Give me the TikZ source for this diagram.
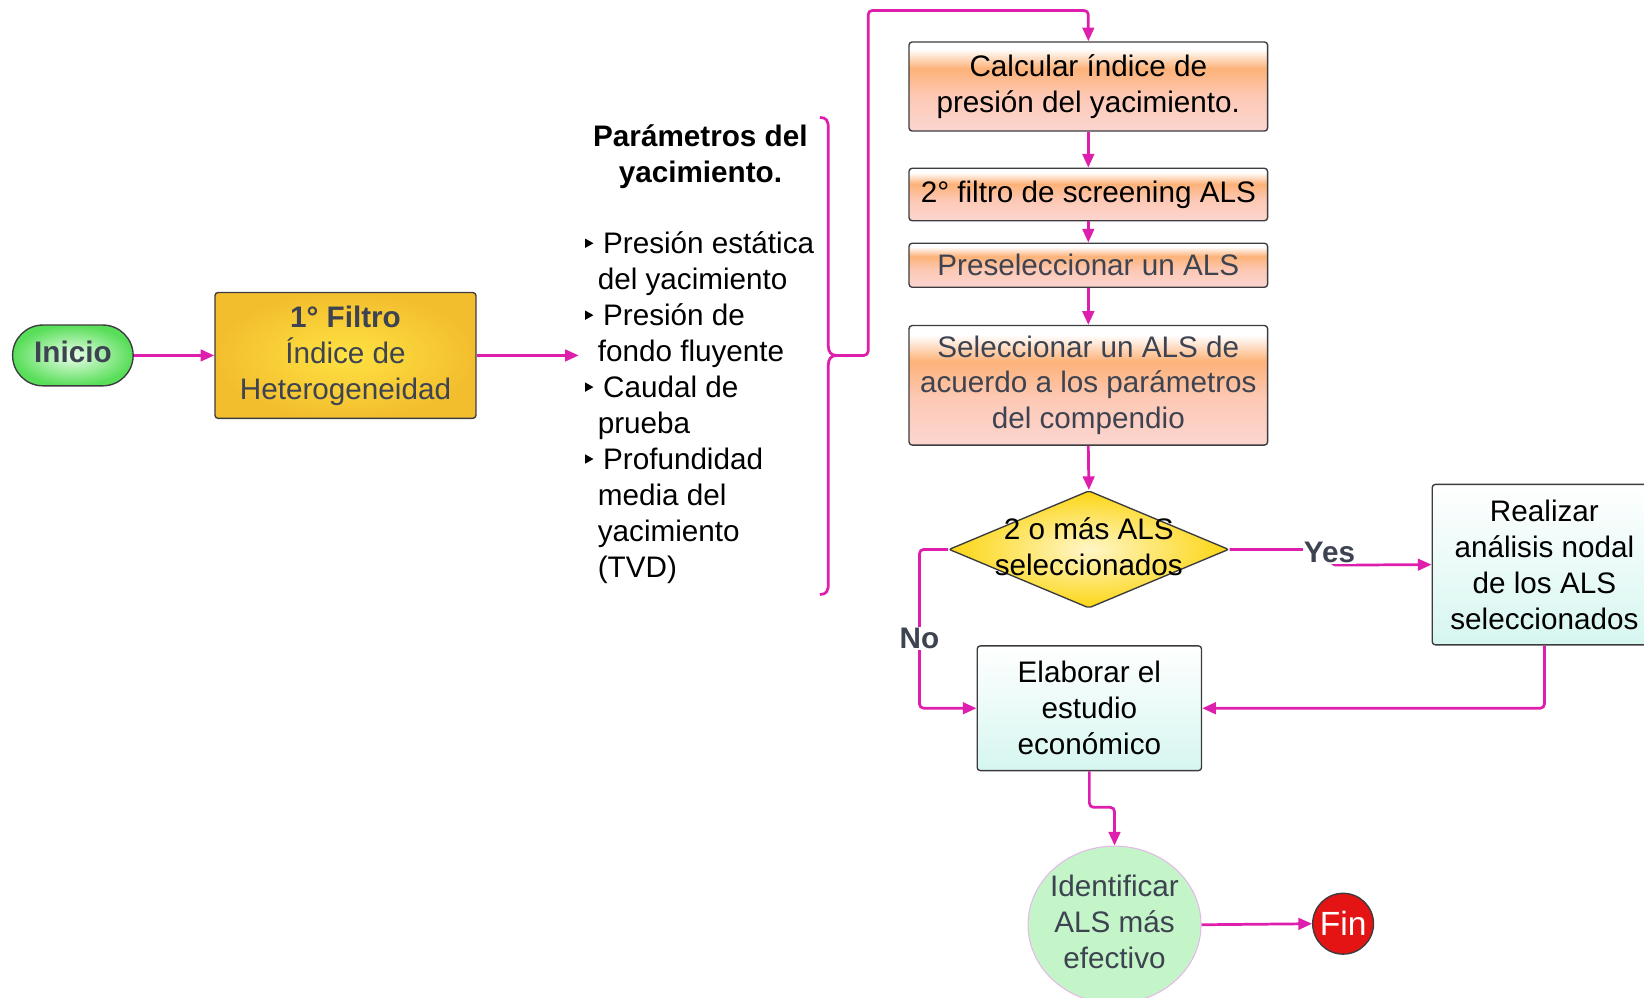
\documentclass[tikz,border=0pt]{standalone}
\usepackage{fontspec}
\setmainfont{Liberation Sans}
\usetikzlibrary{shapes.geometric,arrows.meta}
\definecolor{mag}{RGB}{222,30,172}
\definecolor{bord}{RGB}{60,60,64}
\definecolor{txtgray}{RGB}{61,67,80}
\definecolor{greenOut}{RGB}{88,222,88}
\definecolor{greenIn}{RGB}{235,255,235}
\definecolor{goldOut}{RGB}{243,190,46}
\definecolor{goldIn}{RGB}{255,226,66}
\definecolor{orangeB}{RGB}{253,178,120}
\definecolor{pinkB}{RGB}{252,214,208}
\definecolor{pinkC}{RGB}{253,200,180}
\definecolor{cyanB}{RGB}{214,246,240}
\definecolor{diaOut}{RGB}{252,214,20}
\definecolor{diaIn}{RGB}{255,246,200}
\definecolor{identFill}{RGB}{196,245,200}
\definecolor{identBord}{RGB}{230,184,232}
\definecolor{finRed}{RGB}{228,20,20}
\pgfdeclareverticalshading{orangesh}{100bp}{color(0bp)=(pinkB); color(25bp)=(pinkB); color(45bp)=(pinkC); color(60bp)=(orangeB); color(71bp)=(white); color(100bp)=(white)}
\newcommand\fsz{\fontsize{28.3}{34.3}\selectfont}
\begin{document}
\begin{tikzpicture}[x=1pt,y=-1pt,
  conn/.style={draw=mag, line width=2.6pt, rounded corners=4pt, -{Triangle[length=13pt,width=11pt]}},
  box/.style={draw=bord, line width=1.3pt, rounded corners=3pt, inner sep=0pt, align=center, font=\fsz, minimum width=342pt},
  obox/.style={box, shade, shading=orangesh},
  cbox/.style={box, top color=white, bottom color=cyanB},
  ptext/.style={font=\fsz, inner sep=0pt, anchor=base west},
  lbl/.style={font=\fsz\bfseries, text=txtgray, fill=white, inner sep=1pt}
]
\useasboundingbox (0,0) rectangle (1568,951);
\clip (0,0) rectangle (1568,951);

% nodes
\node[draw=bord, line width=1.3pt, rounded corners=29pt, minimum width=115pt, minimum height=58pt,
      inner color=greenIn, outer color=greenOut, font=\fsz\bfseries, text=txtgray] (inicio) at (69.5,339) {};
\node[font=\fsz\bfseries, text=txtgray, inner sep=0pt] (iniciotxt) at (69.5,336) {Inicio};
\node[box, minimum width=249pt, minimum height=120pt, inner color=goldIn, outer color=goldOut, text=txtgray]
      (filtro) at (329.5,339) {\textbf{1° Filtro}\\Índice de\\Heterogeneidad};

\node[obox, minimum height=85pt] (calc) at (1038,82.5) {Calcular índice de\\presión del yacimiento.};
\node[obox, minimum height=50pt] (filt2) at (1038,185.5) {2° filtro de screening ALS};
\node[obox, minimum height=42pt, text=txtgray] (presel) at (1038,253) {Preseleccionar un ALS};
\node[obox, minimum height=114pt, text=txtgray] (selec) at (1038,367.5) {Seleccionar un ALS de\\acuerdo a los parámetros\\del compendio};

\node[diamond, draw=bord, line width=1.3pt, minimum width=267pt, minimum height=112pt, inner sep=0pt,
      inner color=diaIn, outer color=diaOut, rounded corners=2pt] (diam) at (1038.5,524) {};
\node[font=\fsz, align=center, inner sep=0pt] (diamtxt) at (1038.5,521) {2 o más ALS\\seleccionados};

\node[cbox, minimum width=214pt, minimum height=153pt] (real) at (1473,538.5) {Realizar\\análisis nodal\\de los ALS\\seleccionados};
\node[cbox, minimum width=214pt, minimum height=119pt] (elab) at (1039,675.5) {Elaborar el\\estudio\\económico};

\node[ellipse, draw=identBord, line width=1pt, fill=identFill, minimum width=165pt, minimum height=150pt, inner sep=0pt] (ident) at (1063,882) {};
\node[font=\fsz, align=center, inner sep=0pt, text=txtgray] (identtxt) at (1063,879) {Identificar\\ALS más\\efectivo};

\node[circle, draw=bord, line width=1.3pt, fill=finRed, minimum size=58pt, inner sep=0pt, text=white,
      font=\fontsize{32}{32}\selectfont] (fin) at (1281,881) {Fin};

% parameters text
\node[font=\fsz\bfseries, inner sep=0pt, anchor=base] (ptitle1) at (668,140) {Parámetros del};
\node[font=\fsz\bfseries, inner sep=0pt, anchor=base] (ptitle2) at (668,174.3) {yacimiento.};
\foreach [count=\i] \t/\b in {Presión estática/1, del yacimiento/0, Presión de/1, fondo fluyente/0, Caudal de/1, prueba/0, Profundidad/1, media del/0, yacimiento/0, (TVD)/0}{
  \pgfmathsetmacro\yy{242+(\i-1)*34.3}
  \ifnum\b=1
    \node[ptext] (pl\i) at (575,\yy) {\t};
    \fill (558,{\yy-14.5}) -- (558,{\yy-5.5}) -- (566,{\yy-10}) -- cycle;
  \else
    \node[ptext] (pl\i) at (570,\yy) {\t};
  \fi
}

% brace
\draw[mag, line width=2.6pt] (782,112) .. controls (788,112) and (790,115) .. (790,122) -- (790,330)
  .. controls (790,336) and (793,339) .. (798,339) .. controls (793,339) and (790,342) .. (790,348)
  -- (790,557) .. controls (790,564) and (788,567) .. (782,567);
\coordinate (btip) at (798,339);
\coordinate (ptgt) at (552,339);

% connectors
\draw[conn] (inicio.east) -- (filtro.west);
\draw[conn] (filtro.east) -- (ptgt);
\draw[conn] (btip) -- (828,339) -- (828,10) -- (1038,10) -- (calc.north);
\draw[conn] (calc.south) -- (filt2.north);
\draw[conn] (filt2.south) -- (presel.north);
\draw[conn] (presel.south) -- (selec.north);
\draw[conn] (selec.south) -- (diam.north);
\draw[conn] (diam.east) -- (1270,524) -- (1270,539) -- (real.west);
\node[lbl] (yes) at (1268,527) {Yes};
\draw[conn] (real.south) -- (1473,675.5) -- (elab.east);
\draw[conn] (diam.west) -- (877,524) -- (877,675.5) -- (elab.west);
\node[lbl] (no) at (877,609) {No};
\draw[conn] (elab.south) -- (1039,770) -- (1063,770) -- (ident.north);
\draw[conn] (ident.east) -- (fin.west);
\end{tikzpicture}
\end{document}
